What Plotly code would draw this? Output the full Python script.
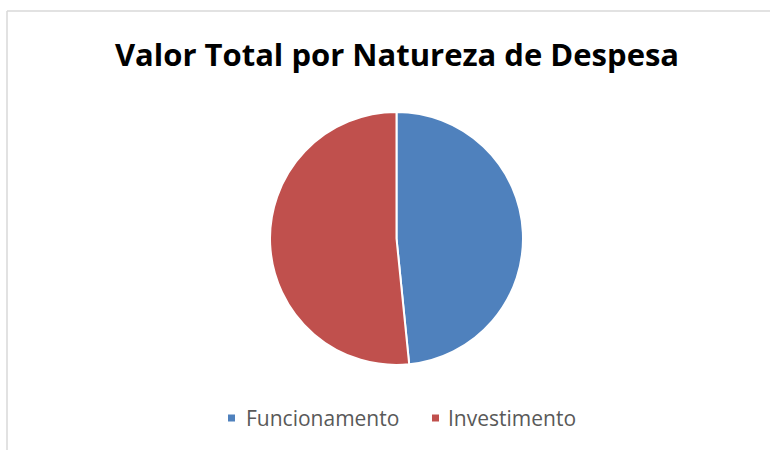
import plotly.graph_objects as go

W, H = 770, 450

categories = ["Funcionamento", "Investimento"]
values = [48.4, 51.6]
colors = ["#4F81BD", "#C0504D"]
title_text = "Valor Total por Natureza de Despesa"

def px_x(x):
    return x / W

def px_y(y):
    return 1 - y / H

fig = go.Figure()
fig.add_trace(go.Pie(
    labels=categories,
    values=values,
    marker=dict(colors=colors, line=dict(color="white", width=2)),
    sort=False,
    direction="clockwise",
    rotation=0,
    textinfo="none",
    hoverinfo="label+value",
    domain=dict(x=[px_x(270), px_x(523)], y=[px_y(365), px_y(112)]),
    showlegend=False,
))

# custom legend (square + label)
legend_sq_x = [228, 432]
legend_txt_x = [244, 446]
legend_y = 418
sq = 7
shapes = [
    dict(type="line", xref="paper", yref="paper",
         x0=px_x(7), x1=1.01, y0=px_y(11), y1=px_y(11),
         line=dict(color="#D9D9D9", width=1.5)),
    dict(type="line", xref="paper", yref="paper",
         x0=px_x(7), x1=px_x(7), y0=px_y(11), y1=-0.01,
         line=dict(color="#D9D9D9", width=1.5)),
]
annotations = []
for cat, col, sx, tx in zip(categories, colors, legend_sq_x, legend_txt_x):
    shapes.append(dict(type="rect", xref="paper", yref="paper",
                       x0=px_x(sx), x1=px_x(sx + sq),
                       y0=px_y(legend_y + sq / 2), y1=px_y(legend_y - sq / 2),
                       fillcolor=col, line=dict(width=0)))
    annotations.append(dict(text=cat, xref="paper", yref="paper",
                            x=px_x(tx), y=px_y(legend_y), xanchor="left", yanchor="middle",
                            showarrow=False,
                            font=dict(family="Open Sans", size=21, color="#595959")))

fig.update_layout(
    width=W, height=H,
    margin=dict(l=0, r=0, t=0, b=0),
    paper_bgcolor="white",
    plot_bgcolor="white",
    title=dict(
        text="<b>" + title_text + "</b>",
        font=dict(family="Open Sans", size=31, color="black"),
        x=px_x(397), xanchor="center",
        y=px_y(55), yanchor="middle",
        xref="paper", yref="paper",
    ),
    showlegend=False,
    shapes=shapes,
    annotations=annotations,
)

fig.write_html("out.html", config={"displayModeBar": False},
               post_script="document.body.style.margin='0';")
